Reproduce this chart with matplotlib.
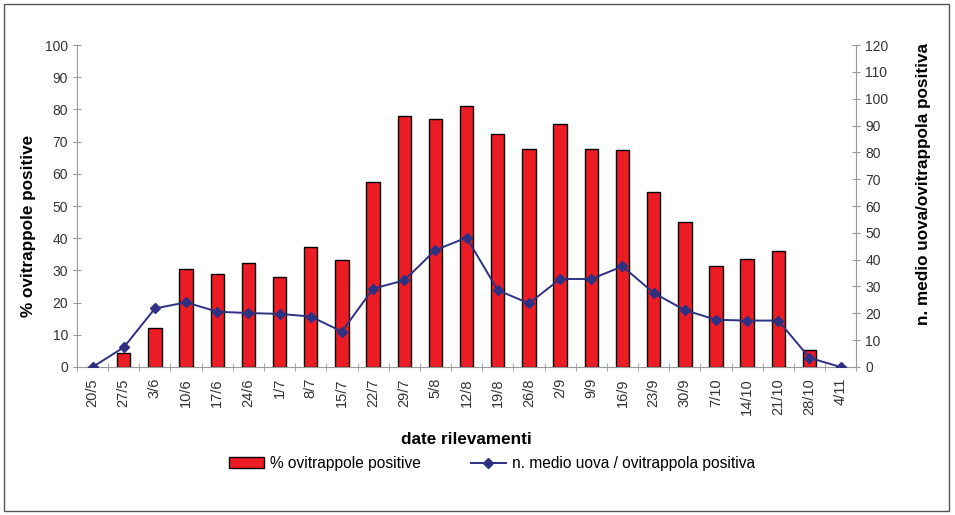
import matplotlib.pyplot as plt
import numpy as np
from matplotlib.patches import Rectangle
from matplotlib.lines import Line2D

dates = ["20/5", "27/5", "3/6", "10/6", "17/6", "24/6", "1/7", "8/7", "15/7", "22/7",
         "29/7", "5/8", "12/8", "19/8", "26/8", "2/9", "9/9", "16/9", "23/9", "30/9",
         "7/10", "14/10", "21/10", "28/10", "4/11"]

pct_positive = [0, 4.2, 12.0, 30.3, 29.0, 32.4, 27.9, 37.4, 33.2, 57.4,
                78.0, 76.9, 81.0, 72.3, 67.7, 75.5, 67.7, 67.3, 54.4, 44.9,
                31.5, 33.5, 36.0, 5.3, 0]
eggs_mean = [0, 7.3, 21.8, 24.1, 20.6, 20.1, 19.8, 18.8, 13.2, 29.2,
             32.3, 43.6, 48.2, 28.6, 23.7, 32.8, 32.8, 37.5, 27.6, 21.2,
             17.6, 17.3, 17.3, 3.4, 0]

plt.rcParams['font.family'] = ['Liberation Sans', 'DejaVu Sans']

fig = plt.figure(figsize=(9.55, 5.15), dpi=100)
fig.patches.append(Rectangle((0.004, 0.008), 0.99, 0.985, transform=fig.transFigure,
                             fill=False, edgecolor="#555555", linewidth=1))

ax = fig.add_axes([0.0806, 0.2874, 0.816, 0.6252])
x = np.arange(len(dates))

ax.bar(x, pct_positive, width=0.43, color="#ec1c24", edgecolor="black", linewidth=1, zorder=2)
ax.set_xlim(-0.5, len(dates) - 0.5)
ax.set_ylim(0, 100)
ax.set_yticks(range(0, 101, 10))
ax.set_xticks(x)
ax.set_xticklabels(dates, rotation=90, fontsize=10.5)
ax.set_xticks(np.arange(-0.5, len(dates)), minor=True)
ax.tick_params(axis="x", which="major", length=0, pad=8, labelcolor="#333333")
ax.tick_params(axis="x", which="minor", length=6, direction="inout", color="#999999")
ax.tick_params(axis="y", length=6, direction="inout", color="#999999", labelsize=10,
               labelcolor="#333333")

for s in ["top", "right"]:
    ax.spines[s].set_visible(False)
for s in ["left", "bottom"]:
    ax.spines[s].set_color("#999999")

ax.set_ylabel("% ovitrappole positive", fontsize=12.3, fontweight="bold", labelpad=6)
ax.yaxis.label.set_y(0.438)
ax.set_xlabel("date rilevamenti", fontsize=12.3, fontweight="bold", labelpad=12)

ax2 = ax.twinx()
ax2.plot(x, eggs_mean, color="#2e3182", marker="D", markersize=5, linewidth=1.4, zorder=3)
ax2.set_ylim(0, 120)
ax2.set_yticks(range(0, 121, 10))
ax2.tick_params(axis="y", length=6, direction="inout", color="#999999", labelsize=10,
                labelcolor="#333333")
for s in ["top", "left", "bottom"]:
    ax2.spines[s].set_visible(False)
ax2.spines["right"].set_color("#999999")
ax2.set_ylabel("n. medio uova/ovitrappola positiva", fontsize=12.3, fontweight="bold", labelpad=20)
ax2.yaxis.label.set_y(0.568)

handles = [Rectangle((0, 0), 1, 1, facecolor="#ec1c24", edgecolor="black"),
           Line2D([], [], color="#2e3182", marker="D", markersize=5, linewidth=1.4)]
fig.legend(handles, ["% ovitrappole positive", "n. medio uova / ovitrappola positiva"],
           loc="center", bbox_to_anchor=(0.515, 0.1), ncol=2, frameon=False,
           fontsize=11.2, columnspacing=3.2, handlelength=2.3, handletextpad=0.35)

fig.savefig("out.png", dpi=100)
